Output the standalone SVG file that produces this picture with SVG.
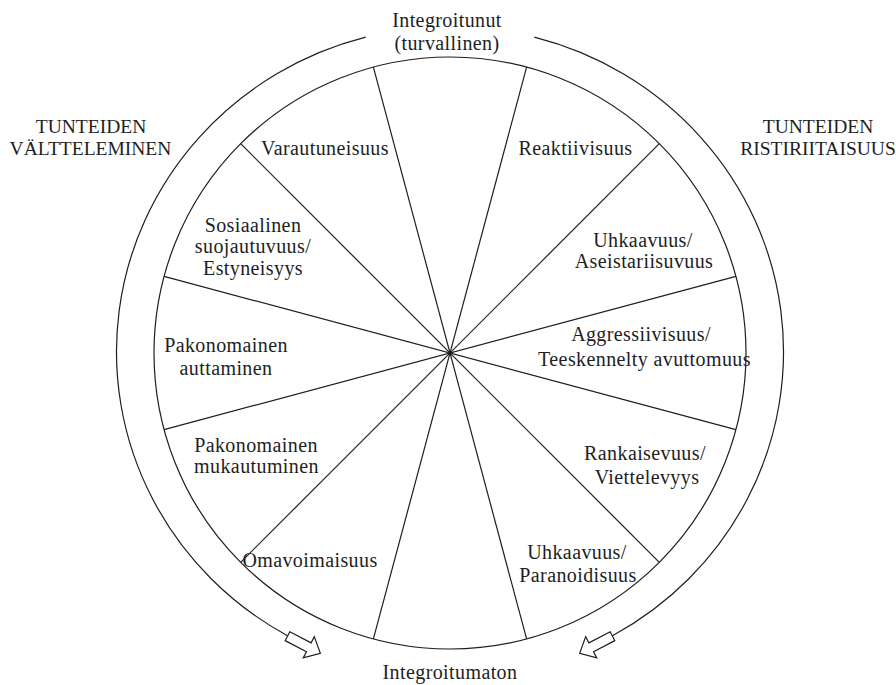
<svg xmlns="http://www.w3.org/2000/svg" width="896" height="685" viewBox="0 0 896 685">
  <style>
    .line { fill: none; stroke: #1e1e1e; stroke-width: 1.2; }
    .lbl { font-family: "Liberation Serif", "Times New Roman", serif; font-size: 20px; letter-spacing: 0.4px; fill: #1e1e1e; text-anchor: middle; }
    .caps { font-family: "Liberation Serif", "Times New Roman", serif; font-size: 19.5px; fill: #1e1e1e; text-anchor: middle; }
    .arrow { fill: #ffffff; stroke: #1e1e1e; stroke-width: 1.2; stroke-linejoin: miter; }
  </style>
  <defs>
    <!-- hollow block arrow, pointing along +x, starting at the origin -->
    <path id="blockArrow" d="M0,-5 L24,-5 L24,-12 L37,0 L24,12 L24,5 L0,5 Z"/>
  </defs>

  <rect width="896" height="685" fill="#ffffff"/>

  <!-- wheel: outer rim and twelve spokes -->
  <g id="wheel">
    <circle class="line" cx="450" cy="353" r="296"/>
    <line class="line" x1="526.61" y1="67.09" x2="373.39" y2="638.91"/>
    <line class="line" x1="659.30" y1="143.70" x2="240.70" y2="562.30"/>
    <line class="line" x1="735.91" y1="276.39" x2="164.09" y2="429.61"/>
    <line class="line" x1="735.91" y1="429.61" x2="164.09" y2="276.39"/>
    <line class="line" x1="659.30" y1="562.30" x2="240.70" y2="143.70"/>
    <line class="line" x1="526.61" y1="638.91" x2="373.39" y2="67.09"/>
    <circle cx="450" cy="353" r="2" fill="#1e1e1e"/>
  </g>

  <!-- curved arrows running round the wheel -->
  <g id="connectors">
    <path class="line" d="M365.7,37.2 A333,325 0 0 0 287.5,635.7"/>
    <path class="line" d="M534.3,37.2 A333,325 0 0 1 612.5,635.7"/>
    <use href="#blockArrow" class="arrow" transform="translate(287.5 636.2) rotate(27.5)"/>
    <use href="#blockArrow" class="arrow" transform="translate(612.5 636.2) scale(-1 1) rotate(27.5)"/>
  </g>

  <!-- poles and sides -->
  <g id="integrated">
    <text class="lbl" x="447" y="26.5">Integroitunut</text>
    <text class="lbl" x="447" y="50">(turvallinen)</text>
  </g>
  <g id="unintegrated">
    <text class="lbl" x="450" y="679">Integroitumaton</text>
  </g>
  <g id="avoidance">
    <text class="caps" x="91" y="132.7">TUNTEIDEN</text>
    <text class="caps" x="90.5" y="155">VÄLTTELEMINEN</text>
  </g>
  <g id="ambivalence">
    <text class="caps" x="818" y="132.7">TUNTEIDEN</text>
    <text class="caps" x="818" y="155">RISTIRIITAISUUS</text>
  </g>

  <!-- sector labels -->
  <g id="varautuneisuus">
    <text class="lbl" x="325" y="155">Varautuneisuus</text>
  </g>
  <g id="reaktiivisuus">
    <text class="lbl" x="575.5" y="155">Reaktiivisuus</text>
  </g>
  <g id="sosiaalinen">
    <text class="lbl" x="253" y="231.7">Sosiaalinen</text>
    <text class="lbl" x="253" y="253.3">suojautuvuus/</text>
    <text class="lbl" x="253" y="275">Estyneisyys</text>
  </g>
  <g id="uhkaavuus-aseistariisuvuus">
    <text class="lbl" x="643" y="246.7">Uhkaavuus/</text>
    <text class="lbl" x="644" y="268.3">Aseistariisuvuus</text>
  </g>
  <g id="pakonomainen-auttaminen">
    <text class="lbl" x="226" y="351.7">Pakonomainen</text>
    <text class="lbl" x="226" y="375">auttaminen</text>
  </g>
  <g id="aggressiivisuus">
    <text class="lbl" x="641" y="341">Aggressiivisuus/</text>
    <text class="lbl" x="644.5" y="366">Teeskennelty avuttomuus</text>
  </g>
  <g id="pakonomainen-mukautuminen">
    <text class="lbl" x="256" y="451.7">Pakonomainen</text>
    <text class="lbl" x="256.5" y="473.3">mukautuminen</text>
  </g>
  <g id="rankaisevuus">
    <text class="lbl" x="645" y="460">Rankaisevuus/</text>
    <text class="lbl" x="647" y="484">Viettelevyys</text>
  </g>
  <g id="omavoimaisuus">
    <text class="lbl" x="310" y="567">Omavoimaisuus</text>
  </g>
  <g id="uhkaavuus-paranoidisuus">
    <text class="lbl" x="577" y="559">Uhkaavuus/</text>
    <text class="lbl" x="578" y="582">Paranoidisuus</text>
  </g>
</svg>
